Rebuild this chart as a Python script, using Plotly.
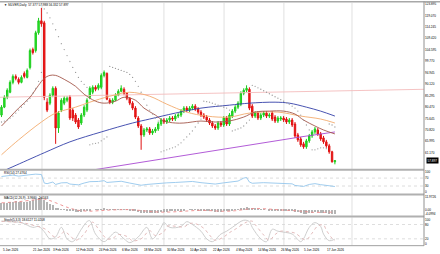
import plotly.graph_objects as go

# ---------------- data ----------------
opens = [77.08, 80.42, 84.60, 86.69, 90.87, 93.38, 92.13, 90.87, 94.64, 92.96,
         97.14, 104.67, 104.25, 111.77, 116.79, 115.95, 82.51, 82.10, 85.44, 88.37,
         71.65, 79.17, 82.10, 83.35, 84.60, 79.17, 77.08, 74.99, 73.74, 77.08,
         79.17, 84.60, 86.69, 88.78, 88.37, 88.78, 93.80, 94.64,
         83.35, 82.51, 83.35, 85.44, 87.11, 87.95, 86.28, 84.19, 82.10, 80.01,
         75.83, 72.48, 68.72, 70.81, 71.23, 69.56, 70.39, 71.23, 73.32, 74.99,
         74.15, 74.99, 75.83, 75.41, 76.66, 77.08, 78.75, 80.01, 79.17, 80.01,
         80.84, 79.59, 78.33, 77.08, 76.24, 74.99, 73.74, 72.48, 71.65, 73.74,
         72.90, 75.83, 73.32, 76.66, 78.75, 80.42, 81.68, 86.28, 87.53, 87.95,
         80.84, 76.66, 77.92, 75.83, 77.08, 77.92, 76.66, 77.92, 76.24, 74.57,
         75.41, 75.83, 75.41, 74.15, 74.99, 73.32, 68.72, 67.05, 64.96, 63.70,
         66.21, 68.30, 69.97, 70.81, 69.14, 67.47, 65.79, 64.12, 61.61, 57.377]
highs = [81.26, 85.44, 88.37, 91.71, 94.22, 94.22, 92.96, 93.80, 95.47, 96.73,
         105.09, 105.50, 112.61, 118.04, 122.22, 116.79, 84.19, 86.28, 89.20, 89.20,
         78.75, 84.19, 85.02, 85.02, 85.44, 80.01, 77.92, 75.83, 77.92, 81.26,
         84.19, 89.20, 89.62, 89.62, 90.46, 94.64, 95.89, 95.05,
         84.19, 84.19, 86.28, 87.95, 89.62, 88.78, 86.69, 84.60, 82.93, 80.84,
         76.66, 73.32, 71.65, 72.06, 72.06, 71.23, 72.06, 74.15, 75.83, 75.83,
         75.83, 76.66, 76.66, 77.50, 77.92, 79.59, 80.84, 80.84, 80.84, 81.68,
         81.68, 80.42, 79.17, 77.92, 77.08, 75.83, 74.57, 73.32, 74.57, 74.57,
         76.66, 76.66, 77.92, 79.59, 81.26, 82.93, 87.11, 88.37, 89.62, 88.78,
         81.68, 78.75, 78.75, 77.92, 78.75, 78.75, 77.92, 78.75, 77.08, 76.66,
         76.66, 76.66, 76.24, 75.83, 75.83, 74.15, 69.56, 67.88, 65.79, 67.05,
         69.14, 70.81, 72.06, 71.65, 69.97, 68.30, 66.63, 64.96, 62.03, 57.988]
lows = [76.24, 80.01, 83.77, 86.28, 90.04, 91.71, 90.04, 90.46, 92.55, 92.55,
        96.31, 102.58, 103.41, 110.94, 114.28, 83.35, 78.33, 81.26, 84.60, 64.96,
        69.56, 78.33, 81.26, 82.51, 74.99, 74.57, 73.32, 71.23, 72.90, 76.24,
        78.33, 83.77, 85.86, 87.11, 87.53, 87.95, 92.96, 83.35,
        81.68, 81.68, 82.93, 85.02, 86.69, 85.44, 83.35, 81.26, 79.17, 75.41,
        71.65, 62.45, 67.88, 69.97, 68.72, 68.72, 69.56, 70.39, 72.48, 73.32,
        73.32, 74.15, 74.57, 74.57, 75.83, 76.24, 77.92, 78.33, 78.33, 79.17,
        78.75, 77.50, 76.24, 75.41, 74.15, 72.90, 71.65, 70.81, 70.81, 72.06,
        72.06, 72.48, 72.48, 75.83, 77.92, 79.59, 80.84, 85.44, 86.69, 79.17,
        75.83, 75.83, 74.99, 74.99, 76.24, 75.83, 75.83, 74.57, 73.74, 73.74,
        74.57, 74.15, 73.32, 73.32, 72.06, 67.47, 65.79, 63.70, 62.87, 62.87,
        65.38, 67.47, 69.14, 68.30, 66.21, 64.96, 63.29, 60.78, 57.01, 56.332]
closes = [80.42, 84.60, 87.53, 90.87, 93.38, 92.55, 90.87, 92.96, 93.38, 95.89,
          104.25, 103.41, 111.77, 116.79, 115.53, 84.60, 79.17, 85.44, 88.37, 71.65,
          77.92, 83.35, 84.19, 84.19, 75.83, 75.83, 74.15, 72.06, 77.08, 80.42,
          83.35, 88.37, 88.78, 87.95, 89.62, 93.80, 95.05, 83.77,
          82.51, 83.35, 85.44, 87.11, 88.37, 86.28, 84.19, 82.10, 80.01, 76.24,
          72.48, 68.72, 70.81, 71.23, 69.56, 70.39, 71.23, 73.32, 74.99, 74.15,
          74.99, 75.83, 75.41, 76.66, 77.08, 78.75, 80.01, 79.17, 80.01, 80.84,
          79.59, 78.33, 77.08, 76.24, 74.99, 73.74, 72.48, 71.65, 73.74, 72.90,
          75.83, 73.32, 77.08, 78.75, 80.42, 82.10, 86.28, 87.53, 88.37, 80.01,
          76.66, 77.92, 75.83, 77.08, 77.92, 76.66, 77.08, 75.41, 74.57, 75.83,
          75.83, 74.99, 74.15, 74.99, 72.90, 68.30, 66.63, 64.54, 63.70, 66.21,
          68.30, 69.97, 71.23, 69.14, 67.05, 65.79, 64.12, 61.61, 57.43, 57.897]

# moving averages (sampled at bar indices)
ma_fast_idx = [0, 3, 6, 10, 13, 15, 17, 19, 22, 26, 29, 33, 36, 40, 43, 47, 50, 54, 57, 61,
               64, 70, 75, 80, 85, 89, 94, 99, 103, 106, 110, 113, 117]
ma_fast = [72.48, 76.24, 80.01, 84.60, 89.62, 92.55, 93.80, 93.80, 92.13, 89.20,
           85.86, 82.93, 82.10, 82.93, 84.60, 83.35, 80.01, 77.08, 74.57, 73.74,
           73.74, 74.57, 74.15, 74.57, 76.24, 78.33, 78.75, 78.75, 77.50, 74.99,
           72.48, 70.81, 69.14]
ma_mid_idx = [0, 6, 14, 19, 26, 31, 38, 45, 52, 58, 65, 72, 80, 87, 97, 105, 112, 117]
ma_mid = [60.36, 66.63, 74.15, 77.92, 80.42, 82.51, 85.02, 86.69, 85.02, 81.68,
          78.33, 76.66, 76.24, 77.92, 78.33, 76.66, 75.41, 73.74]
ma_slow_idx = [0, 4, 15, 24, 35, 46, 52, 61, 70, 80, 87, 96, 101, 107, 112, 117]
ma_slow = [53.25, 55.34, 61.20, 65.79, 69.97, 73.74, 75.41, 77.92, 80.01, 81.26,
           82.10, 82.51, 82.10, 80.42, 78.75, 76.66]
ma_long_idx = [0, 35, 52, 80, 105, 117]
ma_long = [47.82, 54.51, 57.85, 63.29, 67.88, 69.97]

trend_idx = [-1, 149]
trend_val = [84.58, 87.96]

sar = [74.15, 74.57, 74.99, 75.83, 76.66, 77.92, 79.17, 80.42, 81.68, 82.93,
       84.19, 86.28, 88.37, 91.29, 95.05, 121.81, 120.13, 118.04, 115.54, 113.03,
       110.10, 107.18, 104.67, 102.16, 99.65, 97.14, 95.05, 92.96, 91.29, 90.04,
       88.78, 64.54, 64.96, 65.17, 65.38, 66.21, 67.05, 67.88, 97.56, 97.14,
       96.73, 96.31, 95.89, 95.47, 95.05, 94.22, 92.96, 91.29, 89.20, 86.69,
       83.77, 81.26, 79.17, 77.50, 75.83, 74.57, 61.61, 62.03, 62.45, 62.87,
       63.29, 63.70, 64.54, 65.38, 66.63, 67.88, 69.14, 70.39, 72.06, 73.74,
       75.41, 82.93, 82.72, 82.51, 82.10, 81.68, 81.26, 80.84, 80.42, 80.01,
       79.17, 70.39, 70.81, 71.23, 71.65, 72.48, 73.74, 74.99, 89.62, 89.20,
       88.58, 87.95, 87.32, 86.69, 86.07, 85.44, 84.81, 84.19, 83.56, 82.93,
       82.31, 81.68, 80.84, 80.01, 78.75, 77.08, 74.99, 72.90, 70.81, 62.45,
       62.45, 62.87, 63.29, 63.29, 62.90, 73.32, 72.90, 72.06]

rsi_idx = [0, 2, 4, 6, 8, 10, 12, 14, 15, 16, 18, 19, 21, 23, 24, 27, 29, 31, 34, 36,
           37, 40, 42, 45, 47, 49, 51, 55, 58, 61, 64, 67, 70, 73, 75, 78, 80, 83, 85, 86,
           87, 88, 92, 96, 100, 102, 103, 106, 108, 110, 112, 114, 116, 117]
rsi_val = [78, 82, 85, 80, 82, 87, 90, 88, 45, 42, 50, 38, 46, 47, 40, 36, 45, 52, 53, 57,
           48, 50, 54, 45, 40, 34, 38, 44, 46, 48, 52, 53, 47, 43, 40, 46, 49, 55, 70, 73,
           50, 44, 47, 44, 43, 41, 33, 28, 38, 42, 37, 33, 26, 27.48]

macd_hist = [6.0, 6.4, 6.8, 7.2, 7.6, 7.8, 7.6, 7.4, 7.4, 7.6,
             8.4, 8.9, 9.9, 11.0, 11.9726, 9.0, 6.9, 5.6, 4.6, 2.2,
             1.2, 0.6, 0.2, -0.1, -0.7, -1.2, -1.6, -1.9, -1.8, -1.4,
             -0.9, -0.4, 0.0, 0.2, 0.4, 0.8, 1.1, 0.8, 0.5, 0.4,
             0.4, 0.5, 0.7, 0.6, 0.3, -0.1, -0.6, -1.2, -1.9, -2.6,
             -2.9, -3.0, -3.0, -2.9, -2.7, -2.4, -2.1, -1.8, -1.6, -1.4,
             -1.2, -1.0, -0.7, -0.4, -0.2, 0.0, 0.1, 0.2, 0.1, -0.1,
             -0.3, -0.5, -0.8, -1.1, -1.4, -1.6, -1.6, -1.5, -1.3, -1.2,
             -0.9, -0.4, 0.1, 0.6, 1.3, 1.9, 2.4, 1.9, 1.3, 0.9,
             0.5, 0.3, 0.2, 0.0, -0.1, -0.3, -0.5, -0.5, -0.6, -0.7,
             -0.8, -0.8, -1.0, -1.6, -2.3, -3.0, -3.6, -3.5, -3.1, -2.7,
             -2.3, -2.3, -2.5, -2.8, -3.1, -3.5, -4.0994, -3.966]
sig_idx = [0, 6, 12, 15, 17, 19, 22, 24, 27, 31, 35, 38, 42, 45, 49, 53, 57, 62, 66, 70,
           74, 78, 82, 86, 89, 93, 97, 101, 105, 109, 113, 117]
sig_val = [6.5, 7.6, 9.4, 10.0, 8.6, 6.6, 3.4, 1.6, -0.4, -1.2, -0.6, -0.2, 0.2, 0.2, -0.6,
           -1.7, -2.1, -1.6, -0.9, -0.4, -0.8, -1.3, -0.8, 0.6, 1.3, 0.9, 0.1, -0.5, -1.2,
           -2.2, -2.3, -2.0163]

stoch_k_idx = [0, 3, 7, 11, 13, 15, 17, 19, 21, 23, 25, 28, 30, 31, 33, 36, 38, 40, 43, 45,
               48, 51, 53, 56, 57, 59, 63, 65, 67, 70, 72, 74, 77, 79, 81, 85, 87, 88, 91, 93,
               95, 97, 99, 102, 105, 106, 108, 110, 112, 113, 115, 117]
stoch_k = [95, 92, 88, 68, 72, 50, 20, 28, 68, 20, 8, 60, 92, 96, 40, 8, 28, 48, 20, 4,
           28, 68, 20, 68, 88, 68, 72, 92, 80, 52, 20, 8, 40, 52, 68, 98, 92, 68, 20, 8,
           60, 52, 48, 40, 8, 20, 68, 88, 72, 40, 12, 18.61]
stoch_d_idx = [0, 4, 8, 12, 14, 16, 18, 20, 22, 24, 26, 29, 31, 32, 34, 37, 39, 41, 44, 46,
               49, 52, 54, 57, 58, 60, 64, 66, 68, 71, 73, 75, 78, 80, 82, 86, 88, 89, 92, 94,
               96, 98, 100, 103, 106, 107, 109, 111, 113, 114, 116, 117]
stoch_d = [93, 91, 86, 74, 68, 56, 32, 26, 50, 34, 14, 40, 80, 90, 62, 20, 22, 38, 30, 12,
           20, 54, 34, 50, 72, 74, 70, 84, 84, 64, 36, 14, 28, 46, 60, 90, 94, 80, 36, 14,
           38, 52, 50, 44, 18, 16, 44, 74, 78, 56, 22, 11.02]

price_ticks = [123.895, 119.070, 114.245, 109.420, 104.595, 99.770, 94.945, 90.120,
               85.295, 80.470, 75.645, 70.820, 65.995, 61.170]
date_idx = [0, 11, 18, 26, 34, 42, 50, 58, 66, 74, 82, 90, 98, 106, 114]
date_lbl = ["5 Jan 2026", "21 Jan 2026", "3 Feb 2026", "12 Feb 2026", "24 Feb 2026",
            "6 Mar 2026", "18 Mar 2026", "30 Mar 2026", "10 Apr 2026", "22 Apr 2026",
            "4 May 2026", "14 May 2026", "26 May 2026", "5 Jun 2026", "17 Jun 2026"]
title_main = "\u25bc SILVER,Daily  57.377 57.988 56.332 57.897"
title_rsi = "RSI(14) 27.4764"
title_macd = "MACD(12,26,9) -3.9660 -2.0163"
title_stoch = "Stoch(5,3,3) 18.6127 11.0208"
last_price = 57.897

# ---------------- layout constants ----------------
W, H = 440, 254
PLOT_W = 424
X_RANGE = [-0.53, 148.27]
GRID_IDX = [14.2, 35.3, 57.0, 78.1, 99.1, 123.0]
FONT = "Liberation Sans, Arial, sans-serif"
FS = 3.1


def py(px):
    return 1 - px / H


def px_x(px):
    return px / PLOT_W


bars = list(range(len(closes)))
fig = go.Figure()

# main panel
fig.add_trace(go.Candlestick(
    x=bars, open=opens, high=highs, low=lows, close=closes,
    increasing=dict(line=dict(color="#1ccc1c", width=1), fillcolor="#2be82b"),
    decreasing=dict(line=dict(color="#e01010", width=1), fillcolor="#f01c1c"),
    whiskerwidth=0, xaxis="x", yaxis="y", hoverinfo="skip"))
fig.add_trace(go.Scatter(x=trend_idx, y=trend_val, mode="lines",
                         line=dict(color="rgb(244,188,188)", width=0.9), xaxis="x", yaxis="y"))
fig.add_trace(go.Scatter(x=ma_long_idx, y=ma_long, mode="lines",
                         line=dict(color="#a94ad2", width=0.9), xaxis="x", yaxis="y"))
fig.add_trace(go.Scatter(x=ma_slow_idx, y=ma_slow, mode="lines", line_shape="spline",
                         line=dict(color="#3340a8", width=0.9), xaxis="x", yaxis="y"))
fig.add_trace(go.Scatter(x=ma_mid_idx, y=ma_mid, mode="lines", line_shape="spline",
                         line=dict(color="#f3ab6e", width=0.9), xaxis="x", yaxis="y"))
fig.add_trace(go.Scatter(x=ma_fast_idx, y=ma_fast, mode="lines", line_shape="spline",
                         line=dict(color="#a4584c", width=0.9), xaxis="x", yaxis="y"))
fig.add_trace(go.Scatter(x=bars, y=sar, mode="markers",
                         marker=dict(color="#9a9a9a", size=1.3), xaxis="x", yaxis="y"))

# RSI
fig.add_trace(go.Scatter(x=rsi_idx, y=rsi_val, mode="lines",
                         line=dict(color="#94c6ec", width=0.9), xaxis="x2", yaxis="y2"))
# MACD
fig.add_trace(go.Bar(x=bars, y=macd_hist, width=0.38, marker=dict(color="#b4b4b4", line=dict(width=0)),
                     xaxis="x3", yaxis="y3"))
fig.add_trace(go.Scatter(x=sig_idx, y=sig_val, mode="lines", line_shape="spline",
                         line=dict(color="#ec8a8a", width=0.9, dash="dot"), xaxis="x3", yaxis="y3"))
# Stochastic
fig.add_trace(go.Scatter(x=stoch_k_idx, y=stoch_k, mode="lines", line_shape="spline",
                         line=dict(color="#c8c8c8", width=0.9), xaxis="x4", yaxis="y4"))
fig.add_trace(go.Scatter(x=stoch_d_idx, y=stoch_d, mode="lines", line_shape="spline",
                         line=dict(color="#e0b4b4", width=0.9, dash="dot"), xaxis="x4", yaxis="y4"))

xa = dict(domain=[0, 1], range=X_RANGE, visible=False, fixedrange=True)
fig.update_layout(
    width=W, height=H, margin=dict(l=0, r=W - PLOT_W, t=0, b=0),
    paper_bgcolor="white", plot_bgcolor="white", showlegend=False, bargap=0,
    font=dict(family=FONT, size=FS, color="black"),
    xaxis=dict(xa, anchor="y", rangeslider=dict(visible=False)),
    xaxis2=dict(xa, anchor="y2", matches="x"),
    xaxis3=dict(xa, anchor="y3", matches="x"),
    xaxis4=dict(xa, anchor="y4", matches="x"),
)
ya = dict(side="right", showgrid=False, zeroline=False, ticks="", showline=False,
          tickfont=dict(size=FS, family=FONT, color="black"), fixedrange=True)
fig.update_layout(
    yaxis=dict(ya, anchor="x", domain=[py(170), py(2)], range=[54.08, 124.31],
               tickvals=price_ticks, ticktext=[f"{v:.3f}" for v in price_ticks]),
    yaxis2=dict(ya, anchor="x2", domain=[py(194.5), py(170.5)], range=[-10, 110],
                tickvals=[100, 70, 30, 0], ticktext=["100", "70", "30", "0"]),
    yaxis3=dict(ya, anchor="x3", domain=[py(216.5), py(195.5)], range=[-5.48, 13.8],
                tickvals=[11.9726, 0, -4.0994], ticktext=["11.9726", "0.00", "-4.0994"]),
    yaxis4=dict(ya, anchor="x4", domain=[py(246.5), py(218)], range=[-8.3, 110.4],
                tickvals=[100, 80, 20, 0], ticktext=["100", "80", "20", "0"]),
)

shapes = []
# vertical grid lines in each panel
panels = [(2, 170), (170.5, 194.5), (195.5, 216.5), (218, 246.5)]
for g in GRID_IDX:
    for top, bot in panels:
        shapes.append(dict(type="line", xref="x", yref="paper", x0=g, x1=g,
                           y0=py(bot), y1=py(top), layer="below",
                           line=dict(color="#e0e0e0", width=1)))
# level lines
for yref, lv in [("y2", 70), ("y2", 30), ("y4", 80), ("y4", 20)]:
    shapes.append(dict(type="line", xref="paper", yref=yref, x0=0, x1=1, y0=lv, y1=lv,
                       layer="below", line=dict(color="#d4d4d4", width=0.8, dash="dot")))
# panel separators / frame
shapes.append(dict(type="line", xref="paper", yref="paper", x0=0, x1=W / PLOT_W,
                   y0=py(0.7), y1=py(0.7), line=dict(color="#a8a8a8", width=1.4)))
for ypx in [170.2, 195.0, 217.2]:
    shapes.append(dict(type="line", xref="paper", yref="paper", x0=0, x1=1,
                       y0=py(ypx), y1=py(ypx), line=dict(color="#b0b0b0", width=2)))
shapes.append(dict(type="line", xref="paper", yref="paper", x0=0, x1=1,
                   y0=py(246.6), y1=py(246.6), line=dict(color="#a0a0a0", width=1)))
shapes.append(dict(type="line", xref="paper", yref="paper", x0=1, x1=1,
                   y0=py(246.6), y1=py(0.5), line=dict(color="#909090", width=1)))
fig.update_layout(shapes=shapes)

ann = []
for txt, ypx in [(title_main, 4.3), (title_rsi, 173.6), (title_macd, 198.4), (title_stoch, 220.6)]:
    ann.append(dict(text=txt, xref="paper", yref="paper", x=px_x(1.5), y=py(ypx),
                    xanchor="left", yanchor="middle", showarrow=False,
                    font=dict(size=FS, family=FONT, color="black")))
for d, lbl in zip(date_idx, date_lbl):
    ann.append(dict(text=lbl, xref="x4", yref="paper", x=max(d - 0.55, X_RANGE[0] + 0.3),
                    y=py(250.8), xanchor="left", yanchor="middle", showarrow=False,
                    font=dict(size=FS, family=FONT, color="black")))
ann.append(dict(text=f"{last_price:.3f}", xref="paper", yref="y", x=px_x(426), y=last_price,
                xanchor="left", yanchor="middle", showarrow=False, bgcolor="black",
                borderpad=0.5, font=dict(size=FS, family=FONT, color="white")))
fig.update_layout(annotations=ann)

fig.write_html("out.html")
